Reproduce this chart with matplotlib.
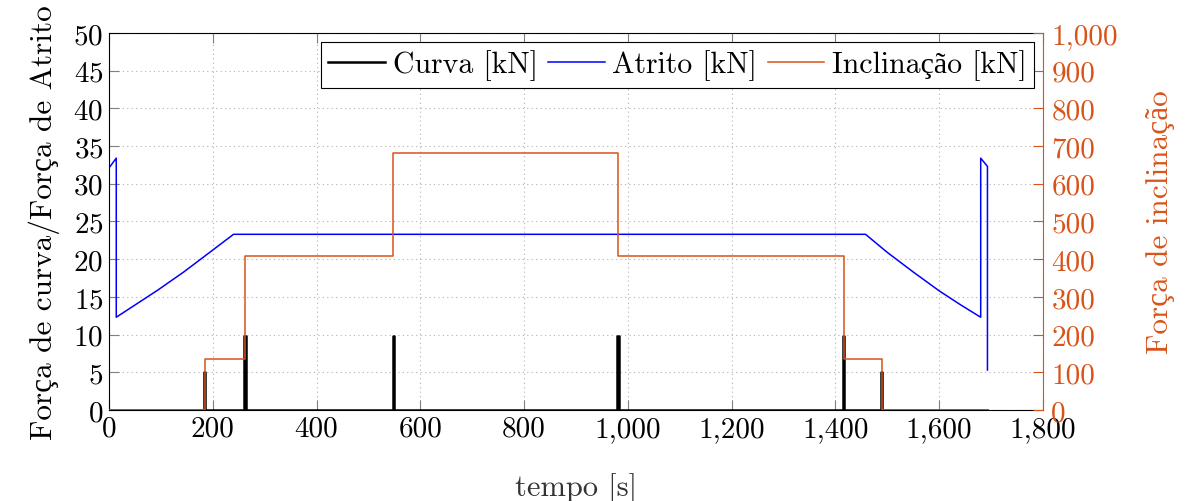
import numpy as np
import matplotlib.pyplot as plt
from matplotlib.ticker import FuncFormatter, MultipleLocator

plt.rcParams["font.family"] = ["cmr10", "Liberation Serif"]
plt.rcParams["axes.formatter.use_mathtext"] = True
plt.rcParams["font.size"] = 21

ORANGE = "#D95319"

# Atrito [kN] (blue)
atrito_t = [0, 0, 14, 14, 54, 94, 144, 194, 240, 1458, 1500, 1550, 1600, 1640, 1680, 1680, 1693, 1693]
atrito_v = [0, 32.1, 33.4, 12.3, 14.1, 15.9, 18.3, 20.9, 23.3, 23.3, 20.9, 18.3, 15.8, 14.0, 12.3, 33.4, 32.3, 5.3]

# Inclinação [kN] (orange, right axis): step changes
incl_change_t = [0, 185, 262, 548, 981, 1417, 1490, 1693]
incl_level = [0, 135, 408, 682, 408, 135, 0, 0]

# Curva [kN] (black): zero with short spikes
curva_end = 1693
spike_t = [184, 262, 548, 981, 1416, 1489]
spike_v = [5.0, 9.8, 9.8, 9.8, 9.8, 5.0]

x_ticks = np.arange(0, 1801, 200)


def build_steps(change_t, levels):
    t, v = [change_t[0]], [levels[0]]
    for i in range(1, len(change_t)):
        t += [change_t[i], change_t[i]]
        v += [levels[i - 1], levels[i]]
    return t, v


def build_spikes(spikes, heights, end, half=1.5):
    t, v = [0], [0]
    for s, h in zip(spikes, heights):
        t += [s - half, s - half, s + half, s + half]
        v += [0, h, h, 0]
    t.append(end)
    v.append(0)
    return t, v


def thousands(x, pos):
    return f"{x:,.0f}"


fig = plt.figure(figsize=(11.86, 5.02), dpi=100)
ax = fig.add_axes([0.0919, 0.1813, 0.7875, 0.751])
ax2 = ax.twinx()

ct, cv = build_spikes(spike_t, spike_v, curva_end)
it, iv = build_steps(incl_change_t, incl_level)

l1, = ax.plot(ct, cv, color="black", lw=1.8, label="Curva [kN]", zorder=3)
l2, = ax.plot(atrito_t, atrito_v, color="blue", lw=1.1, label="Atrito [kN]", zorder=2)
l3, = ax2.plot(it, iv, color=ORANGE, lw=1.1, label="Inclinação [kN]")

ax.set_xlim(0, 1800)
ax.set_ylim(0, 50)
ax2.set_ylim(0, 1000)
ax.set_xticks(x_ticks)
ax.yaxis.set_major_locator(MultipleLocator(5))
ax2.yaxis.set_major_locator(MultipleLocator(100))
ax.xaxis.set_major_formatter(FuncFormatter(thousands))
ax2.yaxis.set_major_formatter(FuncFormatter(thousands))

ax.grid(True, linestyle=(0, (1, 3)), color="#b0b0b0", lw=0.8)
ax.tick_params(direction="in", length=7, color="#808080", top=True, right=False,
               width=0.8, pad=4)
ax2.tick_params(direction="in", length=7, color=ORANGE, labelcolor=ORANGE, width=0.8, pad=6)
ax2.spines["right"].set_color(ORANGE)
for s in ["left", "top", "bottom"]:
    ax.spines[s].set_color("black")
    ax2.spines[s].set_visible(False)
ax.spines["right"].set_visible(False)

ax.set_xlabel("tempo [s]", color="#333333", labelpad=22, fontsize=22)
ax.set_ylabel("Força de curva/Força de Atrito", labelpad=10, fontsize=22.5)
ax2.set_ylabel("Força de inclinação", color=ORANGE, labelpad=20, fontsize=22.5)

leg = ax2.legend(handles=[l1, l2, l3], loc="upper right", ncol=3, fancybox=False,
                 edgecolor="black", framealpha=1, borderaxespad=0.3,
                 handlelength=1.9, handletextpad=0.25, columnspacing=0.35,
                 borderpad=0.25, fontsize=21.5)
leg.get_frame().set_linewidth(0.8)

fig.savefig("out.png", dpi=100)
